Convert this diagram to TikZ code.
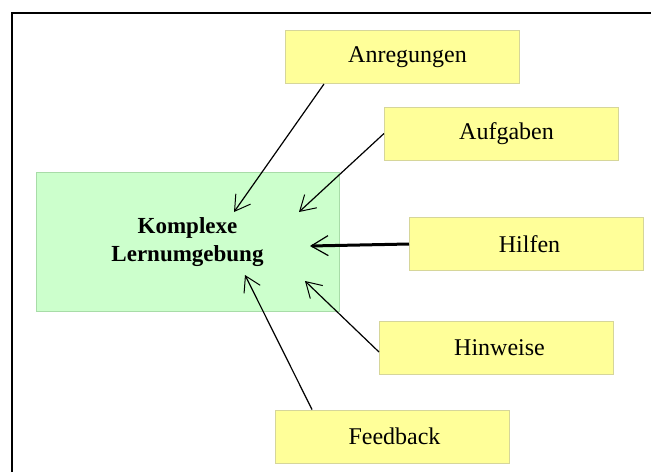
\documentclass[tikz,border=0pt]{standalone}
\usepackage{fontspec}
\setmainfont{Liberation Serif}
\usetikzlibrary{arrows.meta}
\definecolor{envfill}{HTML}{CCFFCC}
\definecolor{envline}{HTML}{A8DCA8}
\definecolor{itemfill}{HTML}{FFFF99}
\definecolor{itemline}{HTML}{D6D69A}
\begin{document}
\begin{tikzpicture}[x=1pt,y=-1pt,
  env/.style={draw=envline,fill=envfill,line width=1pt,minimum width=303pt,minimum height=139pt,
    align=center,font=\fontsize{23}{28}\selectfont\bfseries,inner sep=0pt},
  item/.style={draw=itemline,fill=itemfill,line width=1pt,minimum width=234pt,minimum height=53pt,
    font=\fontsize{24}{28}\selectfont,inner sep=0pt},
  link/.style={line width=1.2pt,-{Straight Barb[length=15pt,width=18pt,line width=1pt]}},
  strong/.style={line width=3pt,-{Straight Barb[length=17pt,width=20pt,line width=1.2pt]}}]
  \useasboundingbox[fill=white] (0,0) rectangle (651,472);
  % frame
  \draw[line width=1.5pt] (12,472) -- (12,13) -- (651,13);
  % central learning environment
  \node[env] (env) at (187.5,241.5) {\raisebox{-3pt}{\begin{tabular}{@{}c@{}}Komplexe\\Lernumgebung\end{tabular}}};
  % influencing elements
  \node[item] (ang) at (402.5,57) {\hspace*{10pt}Anregungen};
  \node[item] (auf) at (501.5,133.5) {\hspace*{10pt}Aufgaben};
  \node[item] (hil) at (526.5,244) {\hspace*{6pt}Hilfen};
  \node[item] (hin) at (496.5,348) {\hspace*{6pt}Hinweise};
  \node[item] (fb)  at (392.5,436.5) {\hspace*{4pt}Feedback};
  % arrow tips inside the environment
  \coordinate (t1) at (234,212);
  \coordinate (t2) at (299,212);
  \coordinate (t3) at (310,246);
  \coordinate (t4) at (305,281);
  \coordinate (t5) at (245,275);
  \draw[link] ([xshift=39pt]ang.south west) -- (t1);
  \draw[link] (auf.west) -- (t2);
  \draw[strong] (hil.west) -- (t3);
  \draw[link] ([yshift=-4pt]hin.west) -- (t4);
  \draw[link] ([xshift=37pt]fb.north west) -- (t5);
\end{tikzpicture}
\end{document}
